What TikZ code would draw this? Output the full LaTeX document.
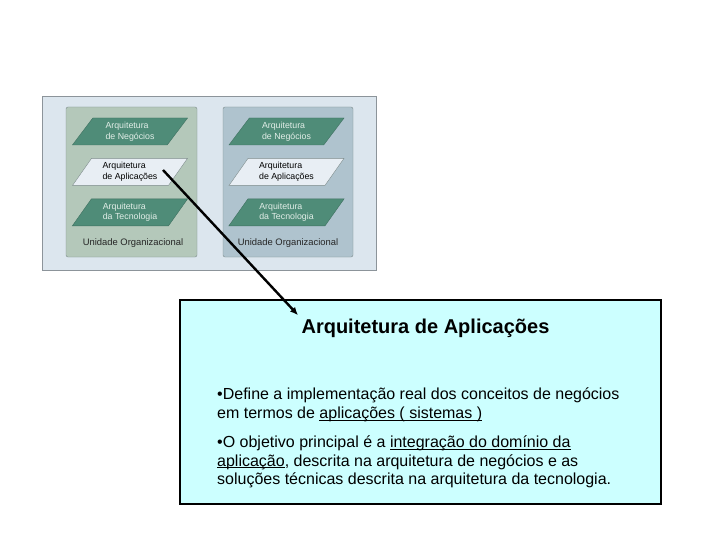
\documentclass[tikz,border=0pt]{standalone}
\usepackage{fontspec}
\setmainfont{Liberation Sans}
\usetikzlibrary{positioning,arrows.meta,shapes.geometric}
\definecolor{OrgFrame}{HTML}{DCE6EE}
\definecolor{OrgFrameLine}{HTML}{8C949A}
\definecolor{OrgGreen}{HTML}{B4C8BA}
\definecolor{OrgBlue}{HTML}{AFC3CE}
\definecolor{OrgPanelLine}{HTML}{7E8C8C}
\definecolor{LayerDark}{HTML}{4F8C78}
\definecolor{LayerLight}{HTML}{E8EEF4}
\definecolor{LayerText}{HTML}{E2EEE8}
\definecolor{InfoCyan}{HTML}{CCFFFF}
\newcommand{\linkul}[1]{\setbox0\hbox{#1}\rlap{\rule[-2pt]{\wd0}{0.7pt}}\box0}

\begin{document}
\begin{tikzpicture}[x=1pt,y=-1pt,>=Latex,node distance=13pt,
 frame/.style={draw=OrgFrameLine,fill=OrgFrame,minimum width=334pt,minimum height=174pt,inner sep=0pt},
 panel/.style={draw=OrgPanelLine,rounded corners=2pt,minimum height=150pt,inner sep=0pt},
 layer/.style={trapezium,trapezium left angle=56,trapezium right angle=124,trapezium stretches=true,
   minimum width=116pt,minimum height=27pt,inner sep=1pt,align=left,font=\fontsize{8.8}{10.5}\selectfont},
 dark/.style={layer,fill=LayerDark,draw=LayerDark!80!black,text=LayerText},
 light/.style={layer,fill=LayerLight,draw=OrgPanelLine,text=black},
 unit/.style={font=\fontsize{9.4}{11}\selectfont,text=black!85},
 info/.style={draw=black,line width=1.8pt,fill=InfoCyan,minimum width=481pt,minimum height=204pt}]
\useasboundingbox[fill=white] (0,0) rectangle (720,540);
% diagram of the organisational units
\node[frame] (fr) at (209,183) {};
\node[panel,fill=OrgGreen,minimum width=131pt] (pl) at (131.5,182) {};
\node[panel,fill=OrgBlue,minimum width=130pt] (pr) at (288,182) {};
\node[dark] (ln) at (130,131.5) {Arquitetura\\de Negócios};
\node[light,below=of ln] (la) {Arquitetura\\de Aplicações};
\node[dark,below=of la] (lt) {Arquitetura\\da Tecnologia};
\node[unit] (lu) at (133,243) {Unidade Organizacional};
\node[dark] (rn) at (286.5,131.5) {Arquitetura\\de Negócios};
\node[light,below=of rn] (ra) {Arquitetura\\de Aplicações};
\node[dark,below=of ra] (rt) {Arquitetura\\da Tecnologia};
\node[unit] (ru) at (288,243) {Unidade Organizacional};
% description box
\node[info] (box) at (420.5,402) {};
\node[font=\bfseries\fontsize{20}{24}\selectfont] (title) at (425.5,328) {Arquitetura de Aplicações};
\node[anchor=north west,align=left,inner sep=0pt,font=\fontsize{16}{18.7}\selectfont] (body) at (217,388)
 {•Define a implementação real dos conceitos de negócios\\
  em termos de \linkul{aplicações ( sistemas )}\\[10pt]
  •O objetivo principal é a \linkul{integração do domínio da}\\
  \linkul{aplicação}, descrita na arquitetura de negócios e as\\
  soluções técnicas descrita na arquitetura da tecnologia.};
\coordinate (src) at (163,170);
\draw[-{Latex[length=8pt,width=7pt]},line width=2.4pt] (src) -- (title.north west);
\end{tikzpicture}
\end{document}
